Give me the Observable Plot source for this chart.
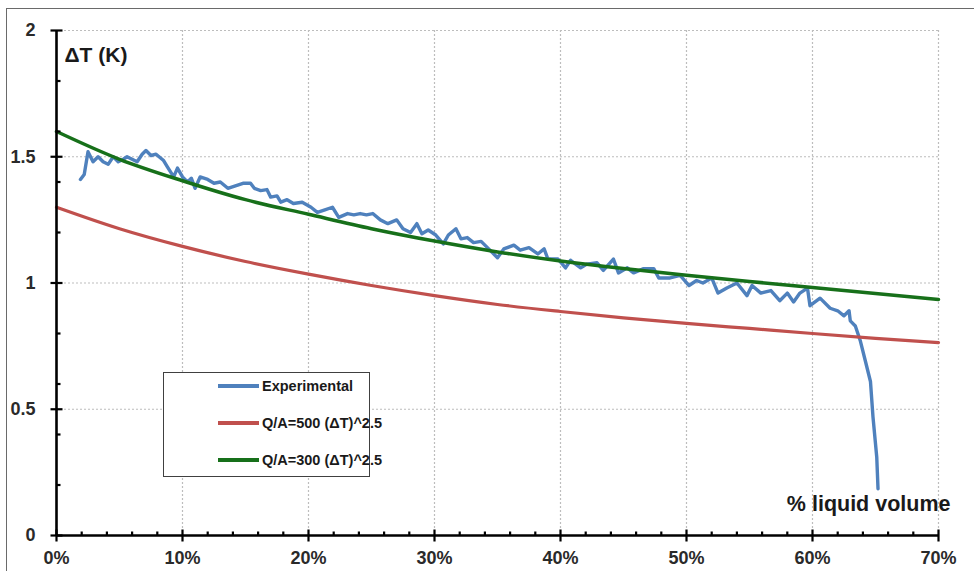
<!DOCTYPE html>
<html>
<head>
<meta charset="utf-8">
<script src="https://cdn.jsdelivr.net/npm/d3@7"></script>
<script src="https://cdn.jsdelivr.net/npm/@observablehq/plot@0.6"></script>
<style>
  html, body { margin: 0; padding: 0; background: #fff; overflow: hidden; }
  #wrap { position: relative; width: 974px; height: 571px; overflow: hidden; background: #fff; }
  #frame { position: absolute; left: 6px; top: 8px; width: 1000px; height: 620px; border: 1.5px solid #6a6a6a; box-sizing: border-box; pointer-events: none; }
  #legend { position: absolute; left: 163px; top: 372px; width: 207px; height: 105px; box-sizing: border-box; border: 1.5px solid #404040; background: #fff;
    font-family: "Liberation Sans", Arial, sans-serif; font-weight: bold; font-size: 14.5px; color: #1a1a1a; }
  .row { position: absolute; left: 54px; height: 20px; display: flex; align-items: center; white-space: nowrap; }
  .sw { width: 41px; height: 4px; margin-right: 3px; flex: none; }
</style>
</head>
<body>
<div id="wrap">
  <div id="chart"></div>
  <div id="frame"></div>
  <div id="legend"></div>
</div>
<script>
// ---- data ----
const seriesNames = ["Experimental", "Q/A=500 (\u0394T)^2.5", "Q/A=300 (\u0394T)^2.5"];
const seriesColors = ["#4f81bd", "#c0504d", "#17701a"];

const xMajorTicks = [0, 10, 20, 30, 40, 50, 60, 70];
const xMinorTicks = [2,4,6,8,12,14,16,18,22,24,26,28,32,34,36,38,42,44,46,48,52,54,56,58,62,64,66,68];
const yMajorTicks = [0, 0.5, 1, 1.5, 2];
const yMinorTicks = [0.2, 0.4, 0.6, 0.8, 1.2, 1.4, 1.6, 1.8];

const modelX = [0, 5, 10, 15, 20, 25, 30, 35, 40, 45, 50, 55, 60, 65, 70];
const greenY = [1.60, 1.49, 1.405, 1.33, 1.272, 1.215, 1.166, 1.123, 1.087, 1.057, 1.031, 1.006, 0.982, 0.958, 0.935];
const redY   = [1.30, 1.215, 1.145, 1.085, 1.035, 0.99, 0.95, 0.915, 0.887, 0.862, 0.84, 0.82, 0.80, 0.781, 0.764];

const expX = [1.9,2.2,2.5,2.9,3.3,3.7,4.1,4.5,4.9,5.3,5.6,6.0,6.4,6.8,7.1,7.5,7.9,8.5,8.8,9.3,9.6,10.0,10.4,10.7,11.0,11.4,12.0,12.5,13.0,13.6,14.2,14.8,15.4,15.7,16.2,16.7,17.0,17.5,17.8,18.3,18.8,19.5,20.2,20.7,21.3,21.9,22.4,23.1,23.6,24.1,24.6,25.1,25.7,26.3,27.0,27.5,28.1,28.6,29.0,29.5,30.1,30.7,31.1,31.7,32.1,32.6,33.1,33.7,34.3,35.0,35.5,36.3,36.8,37.5,38.2,38.7,39.0,39.8,40.4,40.8,41.6,42.1,42.9,43.4,44.2,44.6,45.3,45.8,46.6,47.4,47.8,48.7,49.5,50.2,50.8,51.3,52.0,52.5,53.2,54.0,54.8,55.2,55.9,56.7,57.4,58.0,58.5,59.0,59.6,59.8,60.6,61.4,62.0,62.5,62.9,63.0,63.4,63.8,64.2,64.6,64.8,65.1,65.2];
const expY = [1.41,1.43,1.52,1.48,1.50,1.48,1.47,1.50,1.48,1.49,1.50,1.49,1.48,1.51,1.525,1.505,1.51,1.485,1.46,1.42,1.455,1.42,1.40,1.415,1.375,1.42,1.41,1.395,1.40,1.375,1.385,1.395,1.395,1.375,1.366,1.37,1.34,1.345,1.32,1.33,1.315,1.32,1.30,1.28,1.29,1.30,1.26,1.275,1.27,1.275,1.27,1.275,1.25,1.235,1.25,1.215,1.20,1.235,1.195,1.21,1.19,1.155,1.19,1.215,1.175,1.18,1.16,1.165,1.135,1.10,1.135,1.15,1.13,1.14,1.115,1.135,1.095,1.095,1.06,1.09,1.06,1.075,1.08,1.05,1.095,1.04,1.06,1.04,1.057,1.057,1.02,1.02,1.03,0.99,1.01,1.00,1.02,0.96,0.98,1.00,0.95,0.99,0.96,0.97,0.93,0.96,0.925,0.96,0.98,0.91,0.94,0.90,0.89,0.87,0.89,0.85,0.83,0.77,0.69,0.61,0.47,0.31,0.185];

const yAxisTitle = "\u0394T (K)";
const xAxisTitle = "% liquid volume";

// ---- tables ----
const expData = expX.map((x, i) => ({x, y: expY[i]}));
const greenData = modelX.map((x, i) => ({x, y: greenY[i]}));
const redData = modelX.map((x, i) => ({x, y: redY[i]}));

const font = "'Liberation Sans', Arial, sans-serif";
const gridStyle = {stroke: "#bdbdbd", strokeOpacity: 1, strokeDasharray: "2,2", strokeWidth: 1.2};

// custom tick symbols (drawn via Plot.dot at scale positions)
const rad = size => Math.sqrt(size / Math.PI);
const tickVCross = {draw(c, s) { const r = rad(s); c.moveTo(0, -r); c.lineTo(0, r); }};
const tickVUp    = {draw(c, s) { const r = rad(s); c.moveTo(0, 0); c.lineTo(0, -r); }};
const tickHCross = {draw(c, s) { const r = rad(s); c.moveTo(-r, 0); c.lineTo(r, 0); }};
const tickHRight = {draw(c, s) { const r = rad(s); c.moveTo(0, 0); c.lineTo(r, 0); }};
const tickStyle = {fill: "none", stroke: "#000", strokeWidth: 2.2};

const chart = Plot.plot({
  width: 974,
  height: 571,
  marginLeft: 56,
  marginRight: 36,
  marginTop: 30,
  marginBottom: 36,
  x: {domain: [0, 70], label: null},
  y: {domain: [0, 2], label: null},
  style: {background: "transparent", fontFamily: font, overflow: "visible"},
  marks: [
    Plot.gridX(xMajorTicks.filter(d => d > 0), gridStyle),
    Plot.gridY(yMajorTicks.filter(d => d > 0), gridStyle),
    Plot.line(expData, {x: "x", y: "y", stroke: seriesColors[0], strokeWidth: 3.4, strokeLinejoin: "round"}),
    Plot.line(redData, {x: "x", y: "y", stroke: seriesColors[1], strokeWidth: 3.2, curve: "monotone-x"}),
    Plot.line(greenData, {x: "x", y: "y", stroke: seriesColors[2], strokeWidth: 3.5, curve: "monotone-x"}),
    Plot.ruleX([0], {stroke: "#000", strokeWidth: 2.6}),
    Plot.ruleY([0], {stroke: "#000", strokeWidth: 2.6}),
    Plot.dot(xMajorTicks, {x: d => d, y: () => 0, symbol: tickVCross, r: 6, ...tickStyle}),
    Plot.dot(xMinorTicks, {x: d => d, y: () => 0, symbol: tickVUp, r: 4, ...tickStyle}),
    Plot.dot(yMajorTicks, {x: () => 0, y: d => d, symbol: tickHCross, r: 6, ...tickStyle}),
    Plot.dot(yMinorTicks, {x: () => 0, y: d => d, symbol: tickHRight, r: 4, ...tickStyle}),
    Plot.axisX(xMajorTicks, {tickSize: 0, tickPadding: 16, tickFormat: d => d + "%", fill: "#2a2a2a", fontSize: 18, fontWeight: "bold"}),
    Plot.axisY(yMajorTicks, {tickSize: 0, tickPadding: 21, tickFormat: d => String(d), fill: "#2a2a2a", fontSize: 18, fontWeight: "bold"}),
    Plot.text([yAxisTitle], {text: d => d, frameAnchor: "top-left", textAnchor: "start", dx: 8, dy: 17, fontSize: 21, fontWeight: "bold", fill: "#1a1a1a"}),
    Plot.text([xAxisTitle], {text: d => d, frameAnchor: "bottom-right", textAnchor: "end", dx: 12, dy: -25, fontSize: 21.5, fontWeight: "bold", fill: "#1a1a1a"})
  ]
});
document.getElementById("chart").appendChild(chart);

// legend
const legend = document.getElementById("legend");
const rowTops = [3, 40, 77];
seriesNames.forEach((name, i) => {
  const row = document.createElement("div");
  row.className = "row";
  row.style.top = rowTops[i] + "px";
  const sw = document.createElement("div");
  sw.className = "sw";
  sw.style.background = seriesColors[i];
  const label = document.createElement("span");
  label.textContent = name;
  row.appendChild(sw);
  row.appendChild(label);
  legend.appendChild(row);
});
</script>
</body>
</html>
